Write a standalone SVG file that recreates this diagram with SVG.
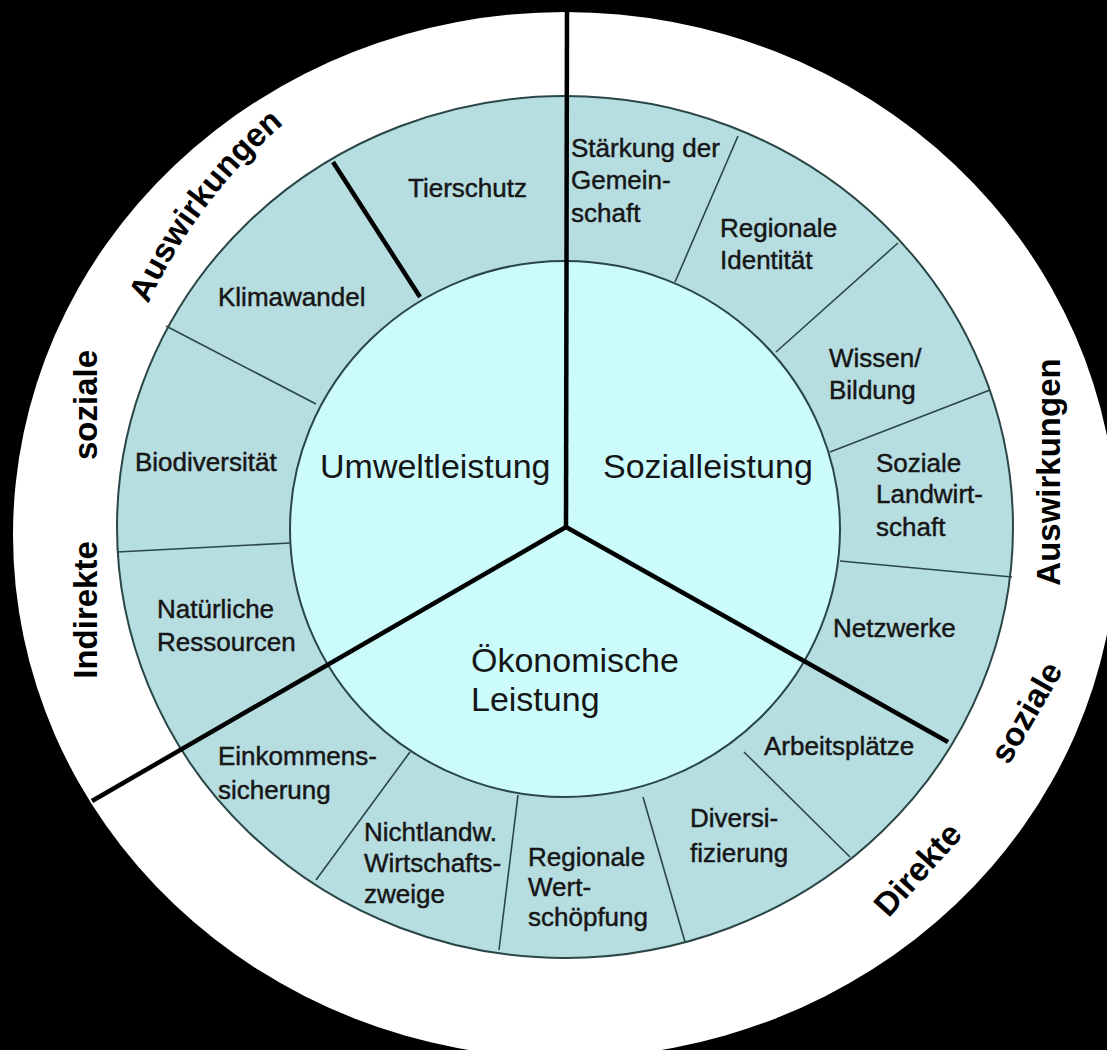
<svg xmlns="http://www.w3.org/2000/svg" width="1107" height="1050" viewBox="0 0 1107 1050">
<style>
.lbl{font-family:"Liberation Sans",Arial,sans-serif;font-size:26px;fill:#161616;stroke:#161616;stroke-width:0.45}
.big{font-family:"Liberation Sans",Arial,sans-serif;font-size:34px;fill:#161616}
.ring{font-family:"Liberation Sans",Arial,sans-serif;font-weight:bold;font-size:33px;fill:#000}
.sep{stroke:#2b4646;stroke-width:1.6;fill:none}
.thick{stroke:#000;stroke-width:4.5;stroke-linecap:butt;fill:none}
</style>
<defs>
<path id="arcLU" d="M171.0,779.6 A520,520 0 0 1 443.5,31.0"/>
</defs>
<rect width="1107" height="1050" fill="#000"/>
<ellipse cx="565" cy="535" rx="552" ry="523" fill="#fff"/>
<ellipse cx="565" cy="527" rx="448" ry="431" fill="#b6dde0" stroke="#2b4646" stroke-width="2"/>
<g id="connectors">
<line class="sep" x1="675" y1="282" x2="738" y2="136"/>
<line class="sep" x1="776" y1="352" x2="898" y2="243"/>
<line class="sep" x1="830" y1="452" x2="990" y2="390"/>
<line class="sep" x1="840" y1="561" x2="1012" y2="577"/>
<line class="sep" x1="744" y1="752" x2="850" y2="857"/>
<line class="sep" x1="643" y1="797" x2="685" y2="942"/>
<line class="sep" x1="518" y1="795" x2="499" y2="950"/>
<line class="sep" x1="410" y1="752" x2="316" y2="880"/>
<line class="sep" x1="290" y1="543" x2="117" y2="552"/>
<line class="sep" x1="316" y1="404" x2="166" y2="326"/>
</g>
<ellipse cx="565" cy="529" rx="275" ry="268" fill="#cbfbfb" stroke="#2b4646" stroke-width="2"/>
<g id="dividers">
<line class="thick" x1="567" y1="0" x2="566" y2="527"/>
<line class="thick" x1="566" y1="527" x2="92" y2="801"/>
<line class="thick" x1="566" y1="527" x2="948" y2="742"/>
<line class="thick" x1="420" y1="297" x2="333" y2="162"/>
</g>
<g id="umweltleistung"><text class="big" x="320" y="478">Umweltleistung</text></g>
<g id="sozialleistung"><text class="big" x="603" y="478">Sozialleistung</text></g>
<g id="oekonomische-leistung"><text class="big" x="471" y="672">Ökonomische</text><text class="big" x="471" y="711">Leistung</text></g>
<g id="tierschutz"><text class="lbl" x="408" y="197">Tierschutz</text></g>
<g id="klimawandel"><text class="lbl" x="218" y="306">Klimawandel</text></g>
<g id="biodiversitaet"><text class="lbl" x="135" y="471">Biodiversität</text></g>
<g id="natuerliche-ressourcen"><text class="lbl" x="157" y="618">Natürliche</text><text class="lbl" x="157" y="651">Ressourcen</text></g>
<g id="einkommenssicherung"><text class="lbl" x="218" y="765">Einkommens-</text><text class="lbl" x="218" y="799">sicherung</text></g>
<g id="nichtlandw"><text class="lbl" x="364" y="841">Nichtlandw.</text><text class="lbl" x="364" y="872">Wirtschafts-</text><text class="lbl" x="364" y="903">zweige</text></g>
<g id="regionale-wertschoepfung"><text class="lbl" x="528" y="866">Regionale</text><text class="lbl" x="528" y="896">Wert-</text><text class="lbl" x="528" y="926">schöpfung</text></g>
<g id="diversifizierung"><text class="lbl" x="690" y="827">Diversi-</text><text class="lbl" x="690" y="862">fizierung</text></g>
<g id="arbeitsplaetze"><text class="lbl" x="764" y="755">Arbeitsplätze</text></g>
<g id="netzwerke"><text class="lbl" x="833" y="637">Netzwerke</text></g>
<g id="soziale-landwirtschaft"><text class="lbl" x="876" y="472">Soziale</text><text class="lbl" x="876" y="503">Landwirt-</text><text class="lbl" x="876" y="536">schaft</text></g>
<g id="wissen-bildung"><text class="lbl" x="829" y="367">Wissen/</text><text class="lbl" x="829" y="399">Bildung</text></g>
<g id="regionale-identitaet"><text class="lbl" x="720" y="237">Regionale</text><text class="lbl" x="720" y="269">Identität</text></g>
<g id="staerkung"><text class="lbl" x="571" y="157">Stärkung der</text><text class="lbl" x="571" y="189">Gemein-</text><text class="lbl" x="571" y="222">schaft</text></g>
<g id="indirekte-soziale-auswirkungen">
<text class="ring" text-anchor="middle" transform="translate(97,610) rotate(-90)">Indirekte</text>
<text class="ring" text-anchor="middle" transform="translate(97,405) rotate(-90)">soziale</text>
<text class="ring" text-anchor="middle"><textPath href="#arcLU" startOffset="608.1">Auswirkungen</textPath></text>
</g>
<g id="direkte-soziale-auswirkungen">
<text class="ring" text-anchor="middle" transform="translate(926,877) rotate(-48)">Direkte</text>
<text class="ring" text-anchor="middle" transform="translate(1036,718) rotate(-60)">soziale</text>
<text class="ring" text-anchor="middle" transform="translate(1060,472) rotate(-90)">Auswirkungen</text>
</g>
</svg>
